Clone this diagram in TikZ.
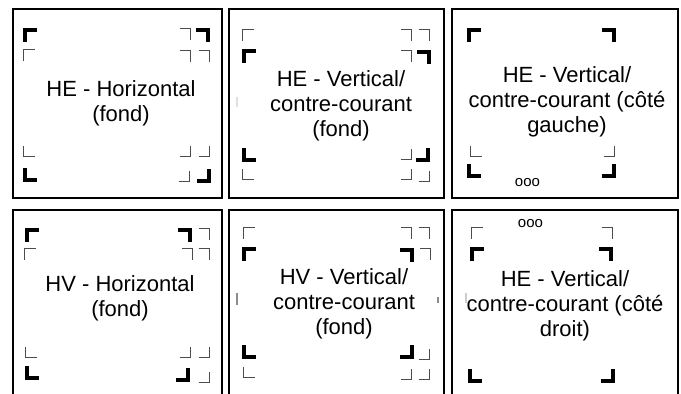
\documentclass[tikz,border=0pt]{standalone}
\usepackage{fontspec}
\setmainfont{Liberation Sans}
\usepackage{tikz}
\tikzstyle{panel} = [draw=black, line width=2pt]
\tikzstyle{thkmark} = [draw=black, line width=4pt]
\tikzstyle{thnmark} = [draw=black!70, line width=1pt]
\tikzstyle{stub} = [draw=black!45, line width=1.5pt]
\tikzstyle{paneltext} = [anchor=north, inner sep=0pt, align=center, font=\fontsize{22}{25}\selectfont]
\tikzstyle{dots} = [inner sep=0pt, font=\fontsize{15}{15}\selectfont]
% corner marks: x, y of the corner, then the signs of the two arms
\newcommand{\thk}[4]{\draw[thkmark] ({#1+(#3)*12},#2) -- (#1,#2) -- (#1,{#2+(#4)*12});}
\newcommand{\thn}[4]{\draw[thnmark] ({#1+(#3)*11},#2) -- (#1,#2) -- (#1,{#2+(#4)*11});}

\begin{document}
\begin{tikzpicture}[x=1pt, y=-1pt]
	\useasboundingbox (0,0) rectangle (681,394);
	\clip (0,0) rectangle (681,394);

	\draw[panel] (13,9) rectangle (222,198);
	\draw[panel] (229,9) rectangle (444,198);
	\draw[panel] (452,9) rectangle (678,198);
	\draw[panel] (13,210) rectangle (222,400);
	\draw[panel] (229,210) rectangle (444,400);
	\draw[panel] (452,210) rectangle (678,400);

	\node (hehor) [paneltext] at (121,80.5) {HE - Horizontal\\(fond)};
	\node (hevert) [paneltext] at (341,70.5) {HE - Vertical/\\contre-courant\\(fond)};
	\node (heleft) [paneltext] at (567,66.5) {HE - Vertical/\\contre-courant (côté\\gauche)};
	\node (hvhor) [paneltext] at (120,275.5) {HV - Horizontal\\(fond)};
	\node (hvvert) [paneltext] at (344,268.5) {HV - Vertical/\\contre-courant\\(fond)};
	\node (heright) [paneltext] at (565,270.5) {HE - Vertical/\\contre-courant (côté\\droit)};

	\node (dotsleft) [dots] at (527.5,182.5) {ooo};
	\node (dotsright) [dots] at (530.5,224) {ooo};

	% HE - Horizontal
	\thk{25}{30}{1}{1}
	\thn{23.5}{49.5}{1}{1}
	\thn{190.5}{28.5}{-1}{1}
	\thk{208}{30}{-1}{1}
	\thn{190.5}{50.5}{-1}{1}
	\thn{209.5}{50.5}{-1}{1}
	\thn{23.5}{156.5}{1}{-1}
	\thk{25}{180}{1}{-1}
	\thn{190.5}{156.5}{-1}{-1}
	\thn{209.5}{156.5}{-1}{-1}
	\thn{189.5}{181.5}{-1}{-1}
	\thk{209}{181}{-1}{-1}

	% HE - Vertical (fond)
	\thn{242.5}{29.5}{1}{1}
	\thk{244}{51}{1}{1}
	\thn{411.5}{29.5}{-1}{1}
	\thn{429.5}{29.5}{-1}{1}
	\thn{411.5}{50.5}{-1}{1}
	\thk{429}{52}{-1}{1}
	\thk{244}{160}{1}{-1}
	\thn{242.5}{179.5}{1}{-1}
	\thn{411.5}{159.5}{-1}{-1}
	\thk{428}{160}{-1}{-1}
	\thn{411.5}{179.5}{-1}{-1}
	\thn{429.5}{181.5}{-1}{-1}
	\draw[stub, draw=black!12] (237,97) -- (237,107);

	% HE - Vertical (cote gauche)
	\thk{469}{30}{1}{1}
	\thk{614}{30}{-1}{1}
	\thn{470.5}{156.5}{1}{-1}
	\thn{614.5}{156.5}{-1}{-1}
	\thk{469}{176}{1}{-1}
	\thk{614}{176}{-1}{-1}

	% HV - Horizontal
	\thk{27}{230}{1}{1}
	\thn{24.5}{248.5}{1}{1}
	\thk{190}{230}{-1}{1}
	\thn{209.5}{228.5}{-1}{1}
	\thn{192.5}{248.5}{-1}{1}
	\thn{209.5}{248.5}{-1}{1}
	\thn{25.5}{357.5}{1}{-1}
	\thk{27}{378}{1}{-1}
	\thn{190.5}{357.5}{-1}{-1}
	\thn{209.5}{357.5}{-1}{-1}
	\thk{188}{380}{-1}{-1}
	\thn{209.5}{382.5}{-1}{-1}

	% HV - Vertical (fond)
	\thn{243.5}{227.5}{1}{1}
	\thk{244}{249}{1}{1}
	\thn{411.5}{227.5}{-1}{1}
	\thn{429.5}{227.5}{-1}{1}
	\thk{412}{250}{-1}{1}
	\thn{430.5}{248.5}{-1}{1}
	\thk{244}{357}{1}{-1}
	\thn{243.5}{377.5}{1}{-1}
	\thk{412}{357}{-1}{-1}
	\thn{429.5}{359.5}{-1}{-1}
	\thn{411.5}{379.5}{-1}{-1}
	\thn{429.5}{379.5}{-1}{-1}
	\draw[stub] (237,293) -- (237,305);
	\draw[stub] (438,297) -- (438,303);

	% HE - Vertical (cote droit)
	\thn{471.5}{227.5}{1}{1}
	\thn{612.5}{227.5}{-1}{1}
	\thk{472}{249}{1}{1}
	\thk{611}{249}{-1}{1}
	\thk{470}{381}{1}{-1}
	\thk{613}{381}{-1}{-1}
	\draw[stub, draw=black!20] (466,293) -- (466,303);

\end{tikzpicture}
\end{document}
